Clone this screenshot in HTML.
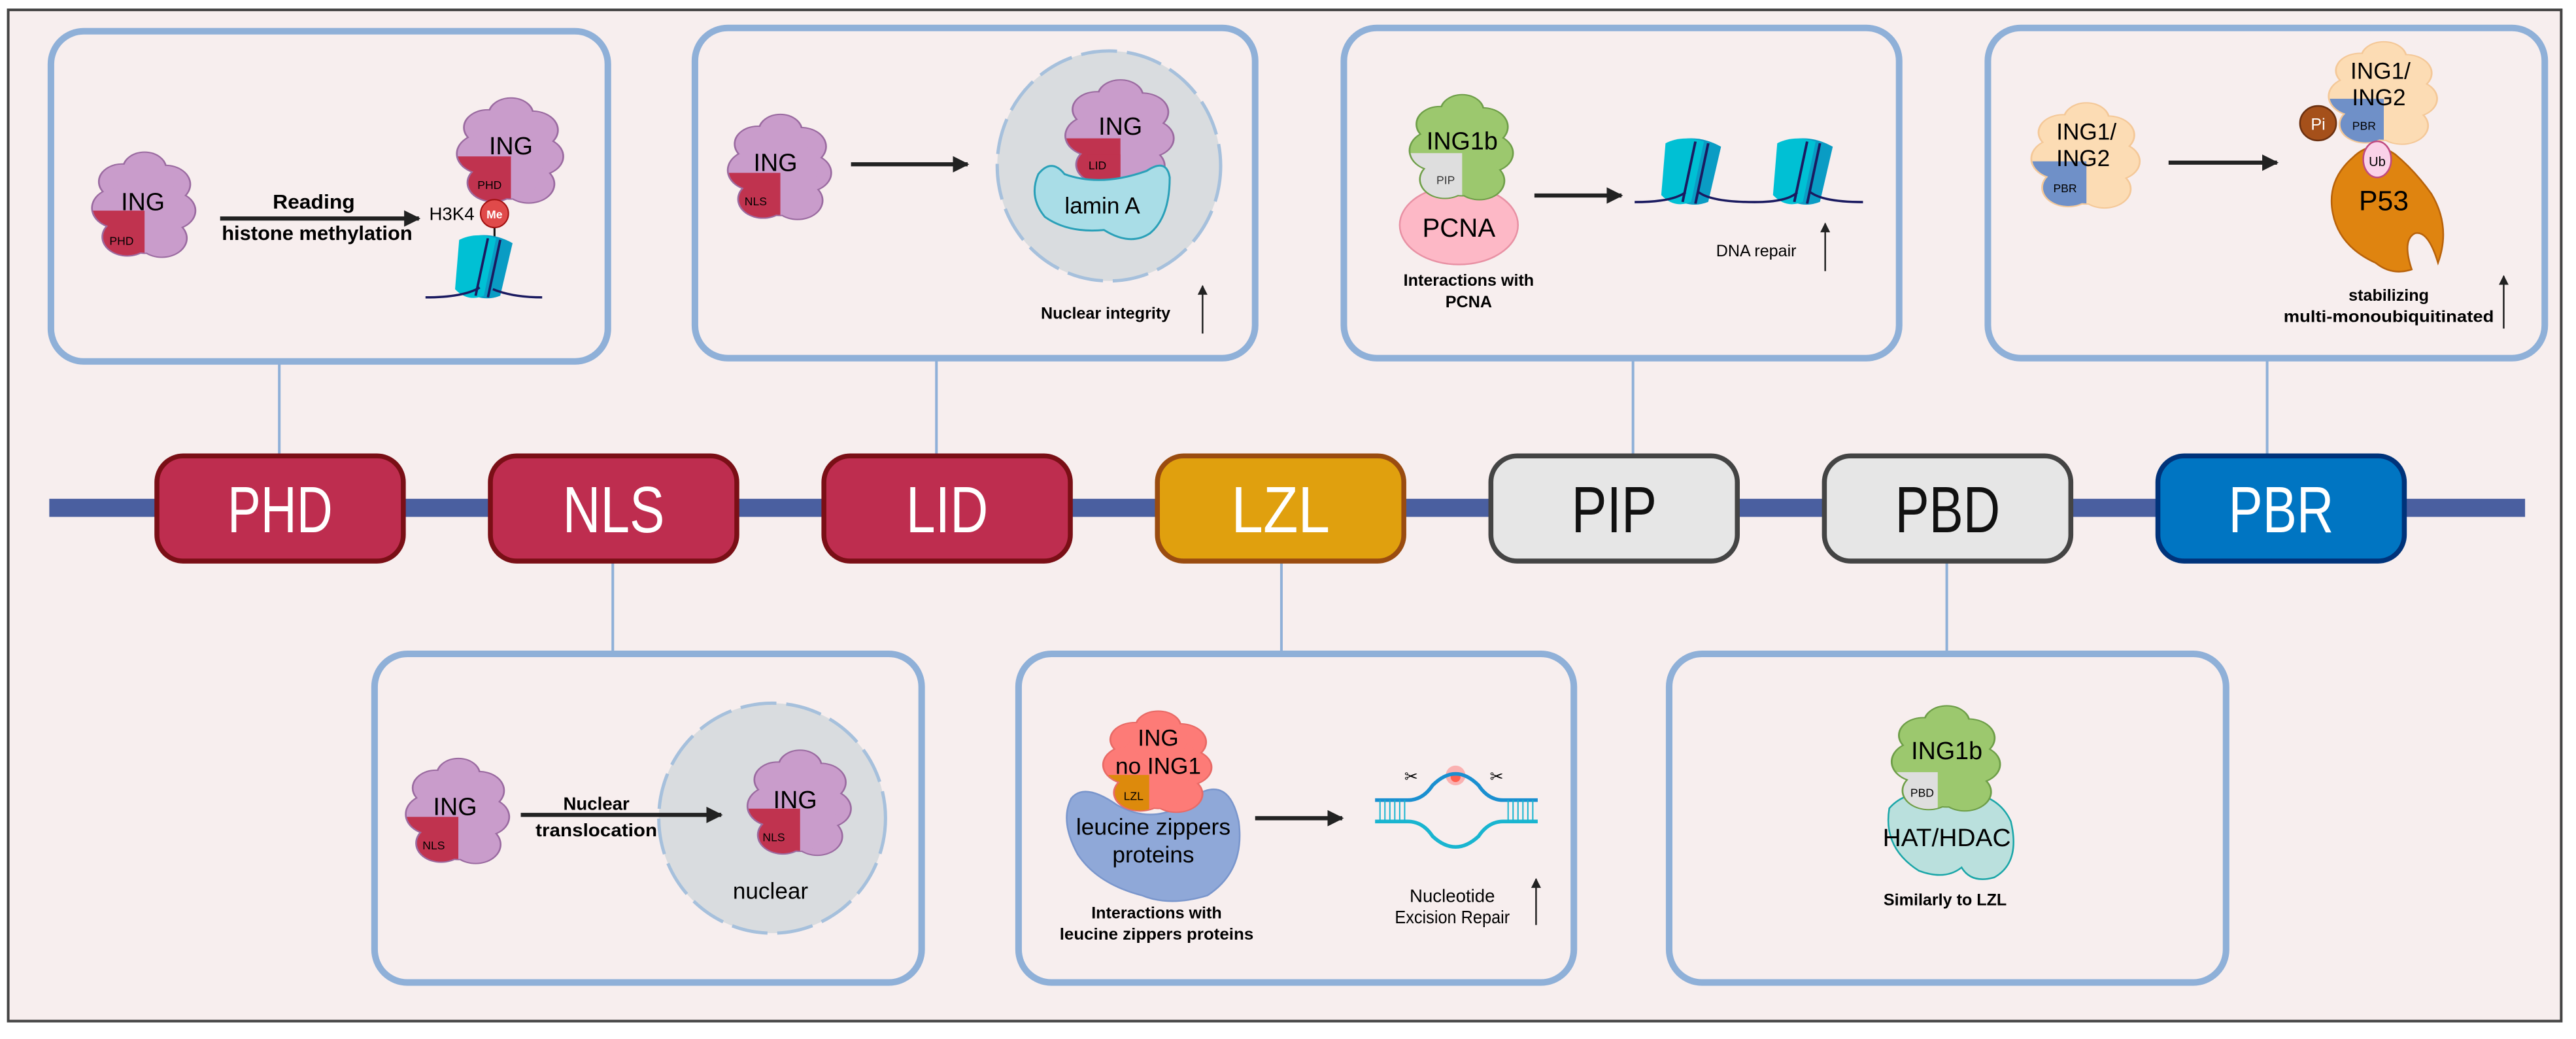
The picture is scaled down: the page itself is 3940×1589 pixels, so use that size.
<!DOCTYPE html>
<html><head><meta charset="utf-8">
<style>
html,body{margin:0;padding:0;background:#fff;}
svg{display:block;}
text{font-family:"Liberation Sans Narrow","Liberation Sans",sans-serif;}
</style></head>
<body>
<svg width="3940" height="1589" viewBox="0 0 1568 632.4" preserveAspectRatio="none" xmlns="http://www.w3.org/2000/svg">
<defs>
  <g id="bl">
    <circle cx="0" cy="-28" r="12"/><circle cx="-13" cy="-18" r="13"/><circle cx="12" cy="-16" r="14"/>
    <circle cx="-15" cy="2" r="15"/><circle cx="15" cy="4" r="14"/><circle cx="-10" cy="24" r="14"/>
    <circle cx="10" cy="25" r="14"/><circle cx="0" cy="0" r="22"/><circle cx="0" cy="20" r="16"/><circle cx="0" cy="-18" r="16"/>
  </g>
  <clipPath id="bc">
    <circle cx="0" cy="-28" r="12"/><circle cx="-13" cy="-18" r="13"/><circle cx="12" cy="-16" r="14"/>
    <circle cx="-15" cy="2" r="15"/><circle cx="15" cy="4" r="14"/><circle cx="-10" cy="24" r="14"/>
    <circle cx="10" cy="25" r="14"/><circle cx="0" cy="0" r="22"/><circle cx="0" cy="20" r="16"/><circle cx="0" cy="-18" r="16"/>
  </clipPath>
  <marker id="ah" viewBox="0 0 10 10" refX="9" refY="5" markerWidth="4" markerHeight="4" orient="auto">
    <path d="M0,0 L10,5 L0,10 z" fill="#222"/>
  </marker>
  <marker id="ah2" viewBox="0 0 10 10" refX="9" refY="5" markerWidth="6" markerHeight="8" orient="auto">
    <path d="M0,0 L10,5 L0,10 z" fill="#222"/>
  </marker>
  <g id="nuc">
    <path d="M-8,-18 Q2,-21 12,-14 L6,18 Q-2,22 -10,16 Z" fill="#0a9cc4"/>
    <path d="M-14,-16 Q-6,-21 4,-17 L-2,18 Q-10,22 -16,14 Z" fill="#00c0d4"/>
    <path d="M0,-17 L-6,18 M6,-16 L0,19" stroke="#1a1a60" stroke-width="1.2" fill="none"/>
  </g>
</defs>

<rect x="0" y="0" width="1568" height="632.4" fill="#fff"/>
<rect x="5" y="6" width="1554" height="615.5" fill="#f7eeee" stroke="#444" stroke-width="1.6"/>

<g stroke="#8fb0d8" stroke-width="1.6">
  <line x1="170" y1="220" x2="170" y2="278"/>
  <line x1="570" y1="217" x2="570" y2="278"/>
  <line x1="994" y1="217" x2="994" y2="278"/>
  <line x1="1380" y1="217" x2="1380" y2="278"/>
  <line x1="373" y1="340" x2="373" y2="398"/>
  <line x1="780" y1="340" x2="780" y2="398"/>
  <line x1="1185" y1="340" x2="1185" y2="398"/>
</g>

<rect x="30" y="303.6" width="1507" height="11" fill="#4a5fa0"/>

<g stroke-width="3">
  <rect x="95.5" y="277.5" width="150" height="64" rx="16" fill="#be2d4f" stroke="#7a0f16"/>
  <rect x="298.5" y="277.5" width="150" height="64" rx="16" fill="#be2d4f" stroke="#7a0f16"/>
  <rect x="501.5" y="277.5" width="150" height="64" rx="16" fill="#be2d4f" stroke="#7a0f16"/>
  <rect x="704.5" y="277.5" width="150" height="64" rx="16" fill="#e0a00e" stroke="#9a4c10"/>
  <rect x="907.5" y="277.5" width="150" height="64" rx="16" fill="#e6e6e6" stroke="#444"/>
  <rect x="1110.5" y="277.5" width="150" height="64" rx="16" fill="#e6e6e6" stroke="#444"/>
  <rect x="1313.5" y="277.5" width="150" height="64" rx="16" fill="#0075c2" stroke="#00337a"/>
</g>
<g font-size="40" text-anchor="middle">
  <text x="170.5" y="324" fill="#fff" textLength="64" lengthAdjust="spacingAndGlyphs">PHD</text>
  <text x="373.5" y="324" fill="#fff" textLength="62" lengthAdjust="spacingAndGlyphs">NLS</text>
  <text x="576.5" y="324" fill="#fff" textLength="50" lengthAdjust="spacingAndGlyphs">LID</text>
  <text x="779.5" y="324" fill="#fff" textLength="60" lengthAdjust="spacingAndGlyphs">LZL</text>
  <text x="982.5" y="324" fill="#111" textLength="52" lengthAdjust="spacingAndGlyphs">PIP</text>
  <text x="1185.5" y="324" fill="#111" textLength="64" lengthAdjust="spacingAndGlyphs">PBD</text>
  <text x="1388.5" y="324" fill="#fff" textLength="64" lengthAdjust="spacingAndGlyphs">PBR</text>
</g>

<g fill="#f7eeee" stroke="#8fb0d8" stroke-width="4">
  <rect x="31" y="19" width="339" height="201" rx="20"/>
  <rect x="423" y="17" width="341" height="201" rx="20"/>
  <rect x="818" y="17" width="338" height="201" rx="20"/>
  <rect x="1210" y="17" width="339" height="201" rx="20"/>
  <rect x="228" y="398" width="333" height="200" rx="20"/>
  <rect x="620" y="398" width="338" height="200" rx="20"/>
  <rect x="1016" y="398" width="339" height="200" rx="20"/>
</g>

<!-- PHD panel -->
<g transform="translate(88,125) scale(1.05,0.8)">
  <use href="#bl" fill="none" stroke="#9a6aa0" stroke-width="2"/><use href="#bl" fill="#c99ccb"/>
  <rect x="-34" y="4" width="34" height="42" fill="#c0334f" clip-path="url(#bc)"/>
</g>
<text x="87" y="128" font-size="15" text-anchor="middle">ING</text>
<text x="74" y="149" font-size="7" text-anchor="middle">PHD</text>
<line x1="134" y1="133" x2="255" y2="133" stroke="#222" stroke-width="2.5" marker-end="url(#ah)"/>
<text x="191" y="127" font-size="12" font-weight="bold" text-anchor="middle" textLength="50" lengthAdjust="spacingAndGlyphs">Reading</text>
<text x="193" y="146" font-size="12" font-weight="bold" text-anchor="middle" textLength="116" lengthAdjust="spacingAndGlyphs">histone methylation</text>
<text x="275" y="134" font-size="11" text-anchor="middle">H3K4</text>
<g transform="translate(311,92) scale(1.08,0.8)">
  <use href="#bl" fill="none" stroke="#9a6aa0" stroke-width="2"/><use href="#bl" fill="#c99ccb"/>
  <rect x="-34" y="4" width="34" height="42" fill="#c0334f" clip-path="url(#bc)"/>
</g>
<text x="311" y="94" font-size="15" text-anchor="middle">ING</text>
<text x="298" y="115" font-size="7" text-anchor="middle">PHD</text>
<line x1="301" y1="136" x2="301" y2="148" stroke="#111" stroke-width="1.2"/>
<circle cx="301" cy="130" r="8.5" fill="#e04a4a" stroke="#a01010" stroke-width="0.8"/>
<text x="301" y="133" font-size="7" fill="#fff" text-anchor="middle" font-weight="bold">Me</text>
<g transform="translate(297,162) scale(1.25,1.0)"><use href="#nuc"/></g>
<path d="M259,181 Q282,181 292,175 M300,176 Q312,181 330,181" stroke="#1a1a60" stroke-width="1.4" fill="none"/>

<!-- LID panel -->
<g transform="translate(475,102) scale(1.05,0.8)">
  <use href="#bl" fill="none" stroke="#9a6aa0" stroke-width="2"/><use href="#bl" fill="#c99ccb"/>
  <rect x="-34" y="4" width="34" height="42" fill="#c0334f" clip-path="url(#bc)"/>
</g>
<text x="472" y="104" font-size="15" text-anchor="middle">ING</text>
<text x="460" y="125" font-size="7" text-anchor="middle">NLS</text>
<line x1="518" y1="100" x2="589" y2="100" stroke="#222" stroke-width="2.5" marker-end="url(#ah)"/>
<ellipse cx="675" cy="101" rx="68" ry="70" fill="#d9dcdf" stroke="#a6c0dc" stroke-width="2" stroke-dasharray="22,6"/>
<g transform="translate(682,81) scale(1.1,0.8)">
  <use href="#bl" fill="none" stroke="#9a6aa0" stroke-width="2"/><use href="#bl" fill="#c99ccb"/>
  <rect x="-34" y="4" width="34" height="42" fill="#c0334f" clip-path="url(#bc)"/>
</g>
<text x="682" y="82" font-size="15" text-anchor="middle">ING</text>
<path d="M632,106 Q640,96 648,106 Q670,114 698,104 Q710,96 712,108 Q712,132 700,142 Q688,150 672,140 Q650,142 636,132 Q626,120 632,106 Z" fill="#a9dde7" stroke="#2aa0b8" stroke-width="1.2"/>
<rect x="662" y="94" width="20" height="12" fill="#c0334f"/>
<text x="668" y="103" font-size="7" text-anchor="middle">LID</text>
<text x="671" y="130" font-size="14" text-anchor="middle">lamin A</text>
<text x="673" y="194" font-size="10" font-weight="bold" text-anchor="middle">Nuclear integrity</text>
<line x1="732" y1="203" x2="732" y2="174" stroke="#222" stroke-width="1" marker-end="url(#ah2)"/>

<!-- PIP panel -->
<ellipse cx="888" cy="137" rx="36" ry="24" fill="#fdb8c6" stroke="#e891a4" stroke-width="1"/>
<g transform="translate(890,90) scale(1.05,0.8)">
  <use href="#bl" fill="none" stroke="#6e9e48" stroke-width="2"/><use href="#bl" fill="#9cc86e"/>
  <rect x="-34" y="4" width="34" height="42" fill="#dedede" clip-path="url(#bc)"/>
</g>
<text x="890" y="91" font-size="15" text-anchor="middle">ING1b</text>
<text x="880" y="112" font-size="7" text-anchor="middle" fill="#333">PIP</text>
<text x="888" y="144" font-size="16" text-anchor="middle">PCNA</text>
<text x="894" y="174" font-size="10" font-weight="bold" text-anchor="middle">Interactions with</text>
<text x="894" y="187" font-size="10" font-weight="bold" text-anchor="middle">PCNA</text>
<line x1="934" y1="119" x2="987" y2="119" stroke="#222" stroke-width="2.5" marker-end="url(#ah)"/>
<g transform="translate(1032,104) scale(1.3,1.05)"><use href="#nuc"/></g>
<g transform="translate(1100,104) scale(1.3,1.05)"><use href="#nuc"/></g>
<path d="M995,123 Q1018,123 1026,117 M1034,117 Q1042,123 1068,123 Q1088,123 1094,117 M1102,117 Q1110,123 1134,123" stroke="#1a1a60" stroke-width="1.4" fill="none"/>
<text x="1069" y="156" font-size="10" text-anchor="middle">DNA repair</text>
<line x1="1111" y1="165" x2="1111" y2="136" stroke="#222" stroke-width="1" marker-end="url(#ah2)"/>

<!-- PBR panel -->
<g transform="translate(1270,95) scale(1.1,0.8)">
  <use href="#bl" fill="none" stroke="#f4c898" stroke-width="2"/><use href="#bl" fill="#fcdcb4"/>
  <rect x="-34" y="4" width="34" height="42" fill="#6f90c8" clip-path="url(#bc)"/>
</g>
<text x="1270" y="85" font-size="14" text-anchor="middle">ING1/</text>
<text x="1268" y="101" font-size="14" text-anchor="middle">ING2</text>
<text x="1257" y="117" font-size="7" text-anchor="middle">PBR</text>
<line x1="1320" y1="99" x2="1386" y2="99" stroke="#222" stroke-width="2.5" marker-end="url(#ah)"/>
<path d="M1432,96 Q1444,84 1458,94 Q1470,104 1480,118 Q1492,138 1484,160 Q1478,140 1470,142 Q1462,146 1468,164 Q1456,168 1446,160 Q1424,150 1420,130 Q1416,110 1432,96 Z" fill="#df8410" stroke="#b8620a" stroke-width="1"/>
<g transform="translate(1451,57) scale(1.1,0.78)">
  <use href="#bl" fill="none" stroke="#f4c898" stroke-width="2"/><use href="#bl" fill="#fcdcb4"/>
  <rect x="-34" y="4" width="34" height="42" fill="#6f90c8" clip-path="url(#bc)"/>
</g>
<text x="1449" y="48" font-size="14" text-anchor="middle">ING1/</text>
<text x="1448" y="64" font-size="14" text-anchor="middle">ING2</text>
<text x="1439" y="79" font-size="7" text-anchor="middle">PBR</text>
<ellipse cx="1411" cy="75" rx="11" ry="10.5" fill="#a5501a" stroke="#6a3010" stroke-width="1"/>
<text x="1411" y="79" font-size="10" fill="#fff" text-anchor="middle">Pi</text>
<ellipse cx="1447" cy="97" rx="8.5" ry="11" fill="#fad2e8" stroke="#c04a80" stroke-width="1"/>
<text x="1447" y="101" font-size="8" text-anchor="middle">Ub</text>
<text x="1451" y="128" font-size="17" text-anchor="middle">P53</text>
<text x="1454" y="183" font-size="10" font-weight="bold" text-anchor="middle">stabilizing</text>
<text x="1454" y="196" font-size="10" font-weight="bold" text-anchor="middle" textLength="128" lengthAdjust="spacingAndGlyphs">multi-monoubiquitinated</text>
<line x1="1524" y1="200" x2="1524" y2="168" stroke="#222" stroke-width="1" marker-end="url(#ah2)"/>

<!-- NLS bottom -->
<g transform="translate(279,494) scale(1.05,0.8)">
  <use href="#bl" fill="none" stroke="#9a6aa0" stroke-width="2"/><use href="#bl" fill="#c99ccb"/>
  <rect x="-34" y="4" width="34" height="42" fill="#c0334f" clip-path="url(#bc)"/>
</g>
<text x="277" y="496" font-size="15" text-anchor="middle">ING</text>
<text x="264" y="517" font-size="7" text-anchor="middle">NLS</text>
<ellipse cx="470" cy="498" rx="69" ry="70" fill="#d9dcdf" stroke="#a6c0dc" stroke-width="2" stroke-dasharray="22,6"/>
<line x1="317" y1="496" x2="439" y2="496" stroke="#222" stroke-width="2.5" marker-end="url(#ah)"/>
<text x="363" y="493" font-size="11" font-weight="bold" text-anchor="middle">Nuclear</text>
<text x="363" y="509" font-size="11" font-weight="bold" text-anchor="middle" textLength="74" lengthAdjust="spacingAndGlyphs">translocation</text>
<g transform="translate(487,489) scale(1.05,0.8)">
  <use href="#bl" fill="none" stroke="#9a6aa0" stroke-width="2"/><use href="#bl" fill="#c99ccb"/>
  <rect x="-34" y="4" width="34" height="42" fill="#c0334f" clip-path="url(#bc)"/>
</g>
<text x="484" y="492" font-size="15" text-anchor="middle">ING</text>
<text x="471" y="512" font-size="7" text-anchor="middle">NLS</text>
<text x="469" y="547" font-size="14" text-anchor="middle">nuclear</text>

<!-- LZL bottom -->
<path d="M652,486 Q660,476 680,490 Q705,504 728,484 Q748,472 754,500 Q758,530 735,545 Q712,552 695,545 Q668,538 656,520 Q645,500 652,486 Z" fill="#8fa8d8" stroke="#7a96cc" stroke-width="1"/>
<g transform="translate(705,464) scale(1.1,0.77)">
  <use href="#bl" fill="none" stroke="#e86a66" stroke-width="2"/><use href="#bl" fill="#fd7b77"/>
  <rect x="-34" y="10" width="29" height="42" fill="#dd8a0c" clip-path="url(#bc)"/>
</g>
<text x="705" y="454" font-size="14" text-anchor="middle">ING</text>
<text x="705" y="471" font-size="14" text-anchor="middle">no ING1</text>
<text x="690" y="487" font-size="7" text-anchor="middle">LZL</text>
<text x="702" y="508" font-size="14" text-anchor="middle" textLength="94" lengthAdjust="spacingAndGlyphs">leucine zippers</text>
<text x="702" y="525" font-size="14" text-anchor="middle">proteins</text>
<text x="704" y="559" font-size="10" font-weight="bold" text-anchor="middle">Interactions with</text>
<text x="704" y="572" font-size="10" font-weight="bold" text-anchor="middle" textLength="118" lengthAdjust="spacingAndGlyphs">leucine zippers proteins</text>
<line x1="764" y1="498" x2="817" y2="498" stroke="#222" stroke-width="2.5" marker-end="url(#ah)"/>
<circle cx="886" cy="472" r="6" fill="#ff4040" opacity="0.35"/>
<circle cx="886" cy="473" r="3" fill="#ff6050"/>
<path d="M837,487 L857,487 Q866,487 872,478 Q886,464 900,478 Q906,487 915,487 L936,487" stroke="#1a8fd0" stroke-width="2.2" fill="none"/>
<path d="M837,500 L857,500 Q866,500 872,509 Q886,522 900,509 Q906,500 915,500 L936,500" stroke="#19b5d0" stroke-width="2.2" fill="none"/>
<path d="M840,487v13M843,487v13M846,487v13M849,487v13M852,487v13M855,487v13M918,487v13M921,487v13M924,487v13M927,487v13M930,487v13M933,487v13" stroke="#19b5d0" stroke-width="0.8"/>
<text x="859" y="476" font-size="10" text-anchor="middle">✂</text>
<text x="911" y="476" font-size="10" text-anchor="middle">✂</text>
<text x="884" y="549" font-size="11" text-anchor="middle">Nucleotide</text>
<text x="884" y="562" font-size="11" text-anchor="middle" textLength="70" lengthAdjust="spacingAndGlyphs">Excision Repair</text>
<line x1="935" y1="563" x2="935" y2="535" stroke="#222" stroke-width="1" marker-end="url(#ah2)"/>

<!-- PBD bottom -->
<path d="M1150,492 Q1160,480 1185,482 Q1215,480 1224,500 Q1230,525 1214,534 Q1200,538 1194,528 Q1184,536 1168,530 Q1146,516 1150,492 Z" fill="#bae0dd" stroke="#1aa6a8" stroke-width="1"/>
<g transform="translate(1185,462) scale(1.1,0.8)">
  <use href="#bl" fill="none" stroke="#6e9e48" stroke-width="2"/><use href="#bl" fill="#9cc86e"/>
  <rect x="-34" y="10" width="29" height="42" fill="#dedede" clip-path="url(#bc)"/>
</g>
<text x="1185" y="462" font-size="15" text-anchor="middle">ING1b</text>
<text x="1170" y="485" font-size="7" text-anchor="middle">PBD</text>
<text x="1185" y="515" font-size="15" text-anchor="middle" textLength="78" lengthAdjust="spacingAndGlyphs">HAT/HDAC</text>
<text x="1184" y="551" font-size="10" font-weight="bold" text-anchor="middle">Similarly to LZL</text>
</svg>
</body></html>
